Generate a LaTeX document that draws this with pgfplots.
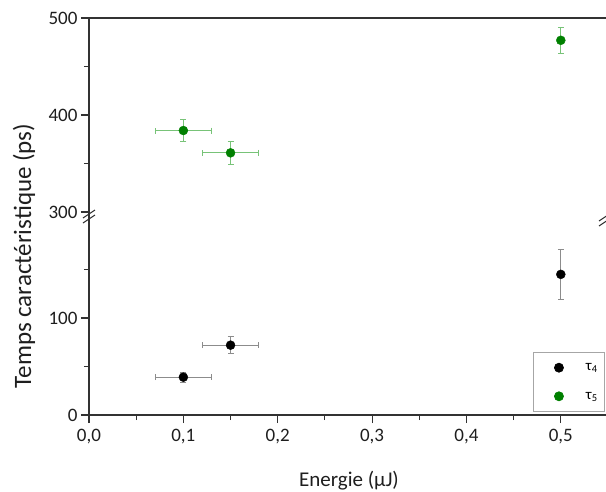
\documentclass[border=0pt]{standalone}
\usepackage{fontspec}
\setmainfont{Carlito}
\usepackage{pgfplots}
\pgfplotsset{compat=1.18}
\definecolor{tgreen}{RGB}{0,128,0}
\definecolor{egreen}{RGB}{120,195,120}
\definecolor{egray}{RGB}{140,140,140}
\definecolor{axgray}{RGB}{50,50,50}
\definecolor{txt}{RGB}{30,30,30}
\pgfplotsset{
  common/.style={
    scale only axis, width=519pt, xmin=0, xmax=0.55,
    axis line style={axgray, line width=1.3pt},
    tick style={axgray, line width=1.1pt},
    tick align=outside,
    major tick length=8pt, minor tick length=5pt,
    ticklabel style={font=\fontsize{19}{22}\selectfont, text=txt},
    /pgf/number format/assume math mode=true,
    clip=false,
  }
}
\begin{document}
\begin{tikzpicture}
\useasboundingbox (-89pt,-76pt) rectangle (517pt,415pt);
% lower part
\begin{axis}[common, at={(0pt,0pt)}, anchor=south west, height=203pt,
  ymin=0, ymax=209.3,
  axis x line*=bottom, axis y line*=left,
  xtick={0,0.1,0.2,0.3,0.4,0.5}, minor xtick={0.05,0.15,0.25,0.35,0.45},
  ytick={0,100}, minor ytick={50,150},
  xticklabel style={yshift=-3pt, /pgf/number format/.cd, fixed, fixed zerofill, precision=1, use comma},
  legend style={at={(axis cs:0.5468,3.1)}, anchor=south east, draw=gray!70, line width=0.8pt,
    font=\fontsize{15}{18}\selectfont, row sep=16pt, column sep=12pt, inner xsep=5pt, inner ysep=9pt},
  legend image code/.code={\path[draw=none,fill=none] (0pt,0pt) -- (34pt,0pt); \draw[#1] plot coordinates {(21pt,0pt)};},
]
\addplot+[only marks, mark=*, mark size=4.5pt, mark options={fill=black, draw=black}, black,
  error bars/.cd, x dir=both, x explicit, y dir=both, y explicit,
  error bar style={draw=egray, line width=0.9pt},
  error mark options={rotate=90, draw=egray, mark size=3pt, line width=0.9pt}]
  coordinates {(0.1,39) +- (0.03,5) (0.15,72) +- (0.03,9) (0.5,145) +- (0,26)};
\addlegendentry{τ\textsubscript{4}}
\addlegendimage{only marks, mark=*, mark size=4.5pt, mark options={fill=tgreen, draw=tgreen}}
\addlegendentry{τ\textsubscript{5}}
\end{axis}
% upper part
\begin{axis}[common, at={(0pt,203pt)}, anchor=south west, height=194pt,
  ymin=300, ymax=500,
  axis x line*=top, axis y line*=left, xtick=\empty,
  ytick={300,400,500}, minor ytick={350,450},
]
\addplot+[only marks, mark=*, mark size=4.5pt, mark options={fill=tgreen, draw=tgreen}, tgreen,
  error bars/.cd, x dir=both, x explicit, y dir=both, y explicit,
  error bar style={draw=egreen, line width=0.9pt},
  error mark options={rotate=90, draw=egreen, mark size=3pt, line width=0.9pt}]
  coordinates {(0.1,384) +- (0.03,11.5) (0.15,361) +- (0.03,12) (0.5,477) +- (0,13.5)};
\end{axis}
% axis break marks
\draw[axgray, line width=1.1pt] (-6pt,197pt) -- (6pt,205pt);
\draw[axgray, line width=1.1pt] (-6pt,192pt) -- (6pt,200pt);
\draw[axgray, line width=1.1pt] (510pt,194pt) -- (522pt,202pt);
\draw[axgray, line width=1.1pt] (510pt,189pt) -- (522pt,197pt);
% axis labels
\node[rotate=90, text=txt, font=\fontsize{25}{28}\selectfont] at (-65pt,159pt) {Temps caractéristique (ps)};
\node[anchor=base, text=txt, font=\fontsize{21}{24}\selectfont] at (260pt,-71pt) {Energie (μJ)};
\end{tikzpicture}
\end{document}
